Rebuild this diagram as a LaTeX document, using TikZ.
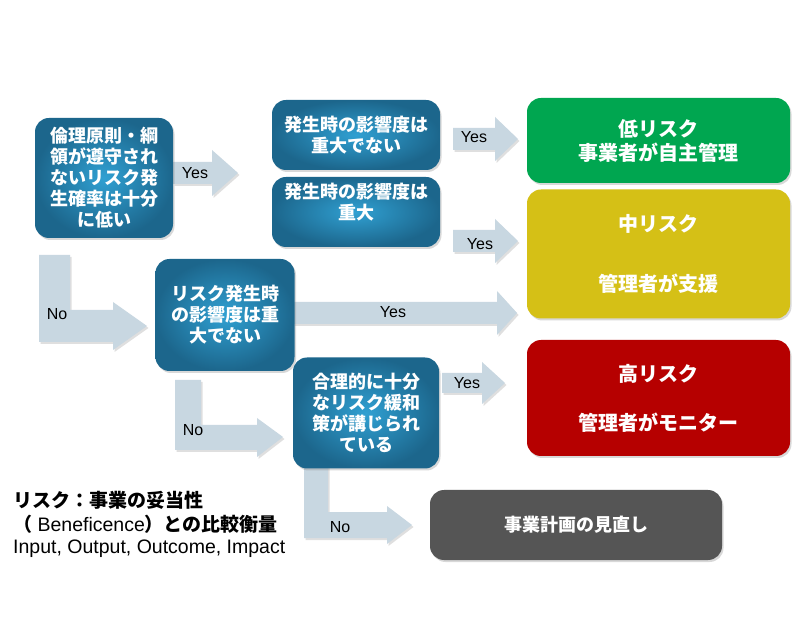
\documentclass[tikz,border=0pt]{standalone}
\usepackage{fontspec}
\setmainfont{Liberation Sans}
\newfontfamily\jp{Noto Sans CJK JP}
\newfontfamily\lat{Liberation Sans}
\usetikzlibrary{shadows}
\definecolor{qblueL}{RGB}{48,160,210}
\definecolor{qblueD}{RGB}{28,102,140}
\definecolor{arrfill}{RGB}{200,215,225}
\definecolor{lowgreen}{RGB}{0,166,80}
\definecolor{midyellow}{RGB}{213,192,22}
\definecolor{highred}{RGB}{182,0,0}
\definecolor{revgray}{RGB}{85,85,85}
\tikzset{
  qbox/.style={rounded corners=14pt, inner color=qblueL, outer color=qblueD, draw=none,
    text=white, align=center, font=\jp\bfseries\fontsize{18}{21}\selectfont,
    drop shadow={shadow xshift=1.5pt, shadow yshift=-2pt, opacity=0.3}},
  rbox/.style={rounded corners=14pt, draw=none, text=white, align=center,
    minimum width=263pt, font=\jp\bfseries\fontsize{20}{24}\selectfont,
    drop shadow={shadow xshift=1.5pt, shadow yshift=-2pt, opacity=0.3}},
  barrow/.style={fill=arrfill, draw=none,
    drop shadow={shadow xshift=1.5pt, shadow yshift=-2pt, opacity=0.25}},
  lbl/.style={font=\lat\fontsize{16}{18}\selectfont, text=black, inner sep=0pt}
}
\begin{document}
\begin{tikzpicture}[x=1pt,y=-1pt]
\useasboundingbox[fill=white] (0,0) rectangle (796,636);
% block arrows
\draw[barrow] (173,162) -- (212,162) -- (212,150) -- (238,173) -- (212,196) -- (212,184) -- (173,184) -- cycle;
\draw[barrow] (453,128) -- (495,128) -- (495,117) -- (518,139) -- (495,161) -- (495,150) -- (453,150) -- cycle;
\draw[barrow] (453,230) -- (495,230) -- (495,219) -- (518,241) -- (495,263) -- (495,252) -- (453,252) -- cycle;
\draw[barrow] (293,302) -- (497,302) -- (497,291) -- (517,313) -- (497,335) -- (497,324) -- (293,324) -- cycle;
\draw[barrow] (442,373) -- (482,373) -- (482,362) -- (505,383) -- (482,404) -- (482,393) -- (442,393) -- cycle;
\draw[barrow] (39,255) -- (70,255) -- (70,310) -- (113,310) -- (113,302) -- (147,326) -- (113,350) -- (113,342) -- (39,342) -- cycle;
\draw[barrow] (175,380) -- (201,380) -- (201,425) -- (257,425) -- (257,418) -- (283,437) -- (257,457) -- (257,450) -- (175,450) -- cycle;
\draw[barrow] (304,462) -- (328,462) -- (328,512) -- (387,512) -- (387,506) -- (412,525) -- (387,544) -- (387,538) -- (304,538) -- cycle;
% arrow labels
\node[lbl] (y1) at (195,173) {Yes};
\node[lbl] (y2) at (474,137) {Yes};
\node[lbl] (y3) at (480,244) {Yes};
\node[lbl] (y4) at (393,312) {Yes};
\node[lbl] (y5) at (467,383) {Yes};
\node[lbl] (n1) at (57,314) {No};
\node[lbl] (n2) at (193,430) {No};
\node[lbl] (n3) at (340,527) {No};
% question boxes
\node[qbox, minimum width=138pt, minimum height=120pt] (q1) at (104,178)
  {倫理原則・綱\\領が遵守され\\ないリスク発\\生確率は十分\\に低い};
\node[qbox, minimum width=168pt, minimum height=70pt] (q1a) at (356,135)
  {発生時の影響度は\\重大でない};
\node[qbox, minimum width=168pt, minimum height=70pt, text depth=22pt] (q1b) at (356,212)
  {発生時の影響度は\\重大};
\node[qbox, minimum width=139pt, minimum height=112pt] (q2) at (225,315)
  {リスク発生時\\の影響度は重\\大でない};
\node[qbox, minimum width=146pt, minimum height=111pt] (q3) at (366,413)
  {合理的に十分\\なリスク緩和\\策が講じられ\\ている};
% result boxes
\node[rbox, fill=lowgreen, minimum height=85pt] (low) at (658.5,140.5)
  {低リスク\\事業者が自主管理};
\node[rbox, fill=midyellow, minimum height=129pt, font=\jp\bfseries\fontsize{20}{60}\selectfont] (mid) at (658.5,254)
  {中リスク\\管理者が支援};
\node[rbox, fill=highred, minimum height=116pt, font=\jp\bfseries\fontsize{20}{49}\selectfont] (high) at (658.5,398)
  {高リスク\\管理者がモニター};
\node[rbox, fill=revgray, minimum width=292pt, minimum height=70pt, font=\jp\bfseries\fontsize{18}{21}\selectfont] (rev) at (576,525)
  {事業計画の見直し};
% note
\node[anchor=west, inner sep=0pt, font=\jp\bfseries\fontsize{19}{22}\selectfont] (note1) at (13,500)
  {リスク：事業の妥当性};
\node[anchor=west, inner sep=0pt, font=\jp\bfseries\fontsize{19}{22}\selectfont] (note2) at (13,524)
  {（{\lat\mdseries\fontsize{19.5}{22}\selectfont\ Beneficence}）との比較衡量};
\node[anchor=west, inner sep=0pt, font=\lat\fontsize{19.5}{22}\selectfont] (note3) at (13,549)
  {Input, Output, Outcome, Impact};
\end{tikzpicture}
\end{document}
